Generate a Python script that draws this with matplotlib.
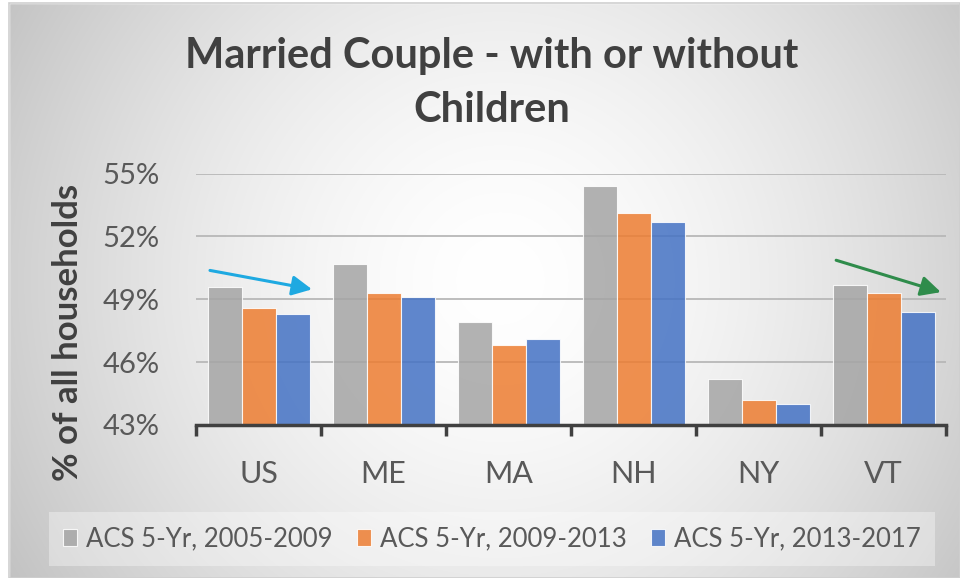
import numpy as np
import matplotlib
matplotlib.use("Agg")
import matplotlib.pyplot as plt
from matplotlib.patches import Rectangle

plt.rcParams['font.family'] = ['Lato', 'DejaVu Sans']

# datos del grafico
states = ["US", "ME", "MA", "NH", "NY", "VT"]
series_names = ["ACS 5-Yr, 2005-2009", "ACS 5-Yr, 2009-2013", "ACS 5-Yr, 2013-2017"]
acs_2005_2009 = [49.6, 50.7, 47.9, 54.4, 45.2, 49.7]
acs_2009_2013 = [48.6, 49.3, 46.8, 53.1, 44.2, 49.3]
acs_2013_2017 = [48.3, 49.1, 47.1, 52.7, 44.0, 48.4]
y_ticks = [43, 46, 49, 52, 55]

# flechas de tendencia (x en categorias, y en %)
blue_arrow = [(-0.41, 50.4), (0.45, 49.45)]
green_arrow = [(4.6, 50.9), (5.48, 49.3)]

colors = ["#a5a5a5", "#ed7d31", "#4472c4"]
text_col = "#595959"

W, H = 960, 578
fig = plt.figure(figsize=(W / 100, H / 100), dpi=100)

# fondo con degradado radial
bg = fig.add_axes([0, 0, 1, 1], zorder=-10)
bg.set_xlim(0, W)
bg.set_ylim(H, 0)
bg.axis("off")
xx, yy = np.meshgrid(np.arange(W), np.arange(H))
d = np.sqrt((xx - 500) ** 2 + (yy - 280) ** 2) / 552.0
g = np.clip(255 - 57 * np.clip(d, 0, 1.1) ** 1.6, 0, 255) / 255.0
img = np.dstack([g, g, g])
bg.imshow(img, extent=(0, W, H, 0), aspect="auto")
bg.add_patch(Rectangle((0, 0), 9, H, color="white", zorder=2))
bg.add_patch(Rectangle((0, 0), W, 3, color="white", zorder=2))
bg.add_patch(Rectangle((9, 3), W - 9, H - 3, fill=False, edgecolor="#cfcfcf", lw=1.2, zorder=3))

ax = fig.add_axes([196 / W, 1 - 425 / H, 750 / W, (425 - 173.5) / H])
ax.set_facecolor("none")

x = np.arange(len(states))
w = 0.272
for j, vals in enumerate([acs_2005_2009, acs_2009_2013, acs_2013_2017]):
    ax.bar(x + (j - 1) * w, vals, width=w, color=colors[j], alpha=0.85,
           edgecolor="white", linewidth=0.8, label=series_names[j], zorder=3)

ax.set_xlim(-0.5, len(states) - 0.5)
ax.set_ylim(43, 55)
ax.set_yticks(y_ticks)
ax.set_yticklabels([f"{t}%" for t in y_ticks])
ax.tick_params(axis="y", length=0, pad=26, labelsize=21, labelcolor=text_col)
ax.yaxis.grid(True, color="#b8b8b8", linewidth=1.3, zorder=0)
ax.set_axisbelow(True)

ax.set_xticks(np.arange(-0.5, len(states), 1.0))
ax.set_xticklabels([])
ax.tick_params(axis="x", which="major", direction="out", length=8, width=2.5, color="#404040")
ax.set_xticks(x, minor=True)
ax.set_xticklabels(states, minor=True)
ax.tick_params(axis="x", which="minor", length=0, pad=25, labelsize=22, labelcolor=text_col)

for s in ["top", "right", "left"]:
    ax.spines[s].set_visible(False)
ax.spines["bottom"].set_color("#404040")
ax.spines["bottom"].set_linewidth(2.5)
ax.spines["bottom"].set_zorder(5)

ax.annotate("", xy=blue_arrow[1], xytext=blue_arrow[0],
            arrowprops=dict(arrowstyle="-|>", color="#1ea9e1", lw=2.2, mutation_scale=30),
            annotation_clip=False, zorder=6)
ax.annotate("", xy=green_arrow[1], xytext=green_arrow[0],
            arrowprops=dict(arrowstyle="-|>", color="#2f8c4b", lw=2.2, mutation_scale=30),
            annotation_clip=False, zorder=6)

# titulo
fig.text(492 / W, 1 - 68 / H, "Married Couple - with or without", ha="center", va="baseline",
         fontsize=30, fontweight="bold", color="#404040")
fig.text(492 / W, 1 - 122 / H, "Children", ha="center", va="baseline",
         fontsize=30, fontweight="bold", color="#404040")

fig.text(68 / W, 1 - 332 / H, "% of all households", rotation=90, ha="center", va="center",
         fontsize=25, fontweight="bold", color="#404040")

leg = fig.legend(loc="center", bbox_to_anchor=(492 / W, 1 - 539 / H), ncol=3,
                 fontsize=18.5, frameon=True, handlelength=0.55, handleheight=0.6,
                 handletextpad=0.35, columnspacing=0.93, borderpad=0.55)
leg.get_frame().set_facecolor("white")
leg.get_frame().set_alpha(0.35)
leg.get_frame().set_edgecolor("none")
leg.get_frame().set_boxstyle("square", pad=0)
for t in leg.get_texts():
    t.set_color(text_col)

fig.savefig("out.png", dpi=100)
